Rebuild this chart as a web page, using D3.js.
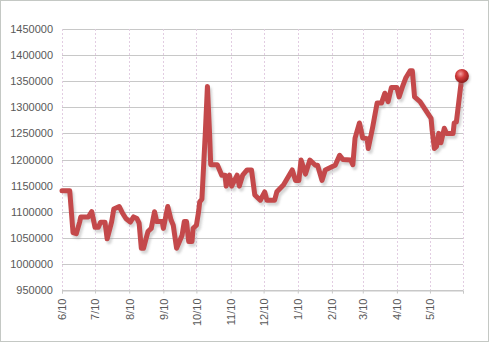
<!DOCTYPE html>
<html>
<head>
<meta charset="utf-8">
<script src="https://cdn.jsdelivr.net/npm/d3@7"></script>
<style>
  body { margin: 0; background: #fff; }
  svg { display: block; font-family: "Liberation Sans", Arial, sans-serif; }
</style>
</head>
<body>
<svg id="chart" width="490" height="343"></svg>
<script>
var dates = [
  "2010-06-10","2010-06-17","2010-06-20","2010-06-23","2010-06-26","2010-06-27","2010-07-04","2010-07-07",
  "2010-07-10","2010-07-13","2010-07-15","2010-07-19","2010-07-21","2010-07-25","2010-07-27","2010-08-01",
  "2010-08-04","2010-08-07","2010-08-11","2010-08-14","2010-08-17","2010-08-19","2010-08-21","2010-08-23",
  "2010-08-25","2010-08-27","2010-08-30","2010-09-02","2010-09-04","2010-09-09","2010-09-10","2010-09-14",
  "2010-09-17","2010-09-19","2010-09-22","2010-09-27","2010-09-29","2010-10-01","2010-10-03","2010-10-06",
  "2010-10-07","2010-10-10","2010-10-12","2010-10-13","2010-10-15","2010-10-18","2010-10-20","2010-10-22",
  "2010-10-23","2010-10-29","2010-10-31","2010-11-02","2010-11-05","2010-11-06","2010-11-09","2010-11-11",
  "2010-11-16","2010-11-18","2010-11-21","2010-11-25","2010-11-29","2010-12-02","2010-12-07","2010-12-11",
  "2010-12-13","2010-12-20","2010-12-22","2010-12-28","2011-01-05","2011-01-08","2011-01-11","2011-01-13",
  "2011-01-17","2011-01-21","2011-01-26","2011-01-28","2011-02-01","2011-02-04","2011-02-10","2011-02-13",
  "2011-02-17","2011-02-20","2011-02-27","2011-03-01","2011-03-03","2011-03-07","2011-03-10","2011-03-14",
  "2011-03-15","2011-03-19","2011-03-23","2011-03-27","2011-03-30","2011-04-02","2011-04-05","2011-04-10",
  "2011-04-12","2011-04-15","2011-04-18","2011-04-22","2011-04-24","2011-04-26","2011-05-01","2011-05-11",
  "2011-05-12","2011-05-14","2011-05-16","2011-05-18","2011-05-20","2011-05-23","2011-05-25","2011-05-31",
  "2011-06-01","2011-06-03","2011-06-08"
];
var values = [
  1140000,1140000,1060000,1058000,1080000,1090000,1090000,1100000,
  1070000,1070000,1080000,1080000,1048000,1080000,1105000,1110000,
  1097000,1087000,1080000,1090000,1087000,1078000,1030000,1030000,
  1046000,1062000,1068000,1100000,1081000,1081000,1068000,1110000,
  1084000,1074000,1030000,1055000,1081000,1081000,1043000,1043000,
  1068000,1074000,1100000,1119000,1124000,1247000,1340000,1247000,
  1190000,1190000,1180000,1170000,1170000,1149000,1170000,1149000,
  1170000,1149000,1170000,1180000,1180000,1132000,1122000,1138000,
  1122000,1122000,1138000,1151000,1180000,1160000,1160000,1199000,
  1172000,1199000,1189000,1189000,1160000,1180000,1186000,1189000,
  1208000,1200000,1199000,1190000,1241000,1270000,1241000,1240000,
  1221000,1262000,1308000,1308000,1327000,1311000,1338000,1338000,
  1320000,1339000,1356000,1370000,1370000,1320000,1311000,1279000,
  1256000,1221000,1225000,1250000,1232000,1260000,1250000,1250000,
  1270000,1272000,1360000
];
var yTicks = [950000,1000000,1050000,1100000,1150000,1200000,1250000,1300000,1350000,1400000,1450000];
var xStart = "2010-06-10", xEnd = "2011-06-09";

var parse = d3.timeParse("%Y-%m-%d");
var data = dates.map(function(d, i){ return {date: parse(d), value: values[i]}; });

var svg = d3.select("#chart");
var pLeft = 62, pRight = 463, pTop = 29, pBottom = 290;

var x = d3.scaleTime().domain([parse(xStart), parse(xEnd)]).range([pLeft, pRight]);
var y = d3.scaleLinear().domain([950000, 1450000]).range([pBottom, pTop]);

// month ticks on the 10th
var xTicks = d3.timeMonth.range(parse("2010-06-01"), parse("2011-06-01")).map(function(m){ return d3.timeDay.offset(m, 9); });

// frame
svg.append("rect").attr("x", 0.5).attr("y", 0.5).attr("width", 488).attr("height", 341)
  .attr("fill", "#fff").attr("stroke", "#c4c8c4");

var defs = svg.append("defs");
var grad = defs.append("radialGradient").attr("id", "ball").attr("cx", "40%").attr("cy", "35%").attr("r", "65%");
grad.append("stop").attr("offset", "0%").attr("stop-color", "#f3a0a0");
grad.append("stop").attr("offset", "45%").attr("stop-color", "#d23c3c");
grad.append("stop").attr("offset", "100%").attr("stop-color", "#8e1d1d");
defs.append("filter").attr("id", "blur").append("feGaussianBlur").attr("stdDeviation", 1.2);

// horizontal grid
svg.append("g").selectAll("line").data(yTicks).join("line")
  .attr("x1", pLeft).attr("x2", pRight)
  .attr("y1", function(d){ return Math.round(y(d)) + 0.5; })
  .attr("y2", function(d){ return Math.round(y(d)) + 0.5; })
  .attr("stroke", "#c8c8c8").attr("stroke-width", 1);

// vertical dashed grid
svg.append("g").selectAll("line").data(xTicks.concat([parse(xEnd)])).join("line")
  .attr("x1", function(d){ return Math.round(x(d)) + 0.5; })
  .attr("x2", function(d){ return Math.round(x(d)) + 0.5; })
  .attr("y1", pTop).attr("y2", pBottom)
  .attr("stroke", "#e2cde2").attr("stroke-dasharray", "2,2");

// y axis labels
var yAxis = svg.append("g").attr("transform", "translate(" + pLeft + ",0)")
  .call(d3.axisLeft(y).tickValues(yTicks).tickSize(0).tickPadding(9).tickFormat(d3.format("d")));
yAxis.select(".domain").remove();
yAxis.selectAll("text").attr("fill", "#595959").style("font-size", "11px");

// x axis
var xAxis = svg.append("g").attr("transform", "translate(0," + (pBottom + 0.5) + ")")
  .call(d3.axisBottom(x).tickValues(xTicks.concat([parse(xEnd)])).tickSize(3).tickFormat(function(d, i){
    return i < xTicks.length ? d3.timeFormat("%-m/%-d")(d) : "";
  }));
xAxis.select(".domain").attr("stroke", "#c8c8c8");
xAxis.selectAll(".tick line").attr("stroke", "#c8c8c8");
xAxis.selectAll("text")
  .attr("fill", "#595959").style("font-size", "11px")
  .attr("text-anchor", "end")
  .attr("transform", "rotate(-90)")
  .attr("x", -8).attr("y", 0).attr("dy", "0.35em");

var line = d3.line().x(function(d){ return x(d.date); }).y(function(d){ return y(d.value); });

// shadow
svg.append("path").datum(data).attr("d", line)
  .attr("transform", "translate(2,3)")
  .attr("fill", "none").attr("stroke", "#999").attr("stroke-opacity", 0.4)
  .attr("stroke-width", 5).attr("stroke-linejoin", "round").attr("filter", "url(#blur)");

svg.append("path").datum(data).attr("d", line)
  .attr("fill", "none").attr("stroke", "#c4494b")
  .attr("stroke-width", 5).attr("stroke-linejoin", "round").attr("stroke-linecap", "round");

var last = data[data.length - 1];
svg.append("circle").attr("cx", x(last.date) + 1.5).attr("cy", y(last.value) + 2)
  .attr("r", 7).attr("fill", "#888").attr("opacity", 0.35).attr("filter", "url(#blur)");
svg.append("circle").attr("cx", x(last.date)).attr("cy", y(last.value))
  .attr("r", 7).attr("fill", "url(#ball)");
</script>
</body>
</html>
